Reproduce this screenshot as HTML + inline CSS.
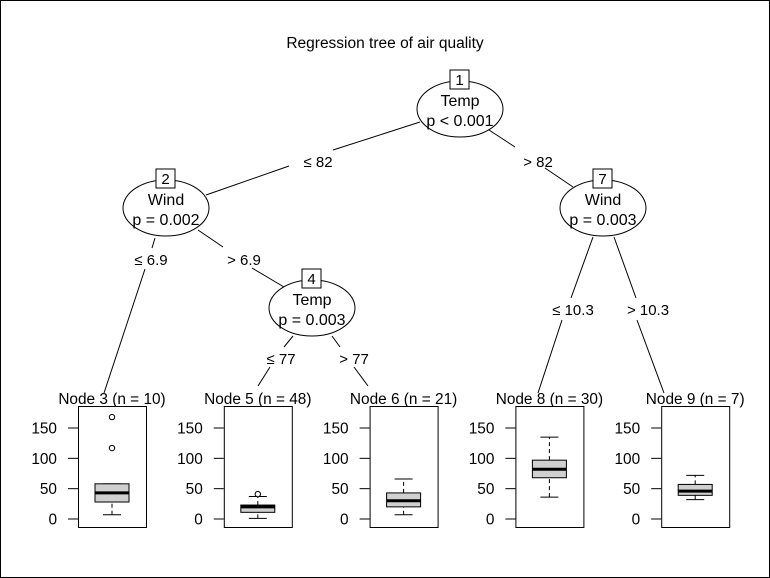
<!DOCTYPE html>
<html><head><meta charset="utf-8"><style>
html,body{margin:0;padding:0;background:#fff}
svg{display:block;font-family:"Liberation Sans",Arial,sans-serif}
</style></head><body>
<svg id="chart" width="770" height="578" viewBox="0 0 770 578">
<rect x="0.5" y="0.5" width="769" height="577" fill="#fff" stroke="#000"/>
<text x="385" y="48" font-size="15.5" text-anchor="middle">Regression tree of air quality</text>
<g stroke="#000" stroke-width="1" fill="none">
<path d="M420 122L333 150M289 166L206 195"/>
<path d="M489 130L515 147M545 168L573 187"/>
<path d="M155 238L152 248M145 269L104 393"/>
<path d="M198 230L223 247M252 268L284 287"/>
<path d="M293 336L284 347M270 367L258 386"/>
<path d="M332 336L340 347M354 367L368 386"/>
<path d="M593 237L571 298M562 320L538 393"/>
<path d="M614 237L636 298M637 320L664 393"/>
</g>
<g font-size="15" text-anchor="middle">
<text x="318" y="167">≤ 82</text>
<text x="538" y="167">&gt; 82</text>
<text x="151" y="265">≤ 6.9</text>
<text x="244" y="265">&gt; 6.9</text>
<text x="281" y="364">≤ 77</text>
<text x="354" y="364">&gt; 77</text>
<text x="573" y="315">≤ 10.3</text>
<text x="648" y="315">&gt; 10.3</text>
</g>
<g id="nodes"></g>
<g id="panels"></g>
</svg>
<script>
const NS='http://www.w3.org/2000/svg';
const nodeIds=[1,2,4,7];
const nodeVars=['Temp','Wind','Temp','Wind'];
const nodePvals=['p < 0.001','p = 0.002','p = 0.003','p = 0.003'];
const nodeCx=[460,166,312,603];
const nodeCy=[109,208,308,208];
const termIds=[3,5,6,8,9];
const termN=[10,48,21,30,7];
const boxLow=[7,1,7,36,32];
const boxQ1=[28,11,20,68,39];
const boxMed=[43,20,30,82,46];
const boxQ3=[58,23,43,97,57];
const boxHigh=[58,37,66,135,72];
const boxOutliers=[[117,168],[41],[],[],[]];
const yTicks=[0,50,100,150];

function el(tag,attrs,parent){const e=document.createElementNS(NS,tag);for(const k in attrs)e.setAttribute(k,attrs[k]);parent.appendChild(e);return e;}
const gN=document.getElementById('nodes');
nodeIds.forEach((id,i)=>{
  const g=el('g',{},gN);
  
  
  el('ellipse',{cx:nodeCx[i],cy:nodeCy[i],rx:43,ry:28,fill:'#fff',stroke:'#000'},g);
  el('rect',{x:nodeCx[i]-10,y:nodeCy[i]-39,width:19,height:19,fill:'#fff',stroke:'#000'},g);
  const t0=el('text',{x:nodeCx[i]-0.5,y:nodeCy[i]-24,'font-size':15,'text-anchor':'middle'},g);t0.textContent=id;
  const t1=el('text',{x:nodeCx[i],y:nodeCy[i]-3,'font-size':16,'text-anchor':'middle'},g);t1.textContent=nodeVars[i];
  const t2=el('text',{x:nodeCx[i],y:nodeCy[i]+17,'font-size':16,'text-anchor':'middle'},g);t2.textContent=nodePvals[i];
});
const gP=document.getElementById('panels');
const y0=519, pxPer=91/150;
function ys(v){return y0-v*pxPer;}
const panelX0=78, panelW=68, panelStep=145.8;
termIds.forEach((id,i)=>{
  const x0=panelX0+i*panelStep, cx=x0+panelW/2;
  const g=el('g',{},gP);
  
  
  const lab=el('text',{x:cx,y:404,'font-size':15.4,'text-anchor':'middle'},g);
  lab.textContent='Node '+id+' (n = '+termN[i]+')';
  el('rect',{x:x0+0.5,y:406.5,width:panelW,height:121,fill:'#fff',stroke:'#000'},g);
  yTicks.forEach(v=>{
    el('line',{x1:x0-10,x2:x0,y1:ys(v),y2:ys(v),stroke:'#000'},g);
    const tt=el('text',{x:x0-21,y:ys(v)+5.5,'font-size':15.4,'text-anchor':'end'},g);tt.textContent=v;
  });
  const bw=34, bx=cx-bw/2;
  el('line',{x1:cx,x2:cx,y1:ys(boxLow[i]),y2:ys(boxQ1[i]),stroke:'#000','stroke-dasharray':'4,3'},g);
  el('line',{x1:cx,x2:cx,y1:ys(boxQ3[i]),y2:ys(boxHigh[i]),stroke:'#000','stroke-dasharray':'4,3'},g);
  el('line',{x1:cx-9,x2:cx+9,y1:ys(boxLow[i]),y2:ys(boxLow[i]),stroke:'#000'},g);
  el('line',{x1:cx-9,x2:cx+9,y1:ys(boxHigh[i]),y2:ys(boxHigh[i]),stroke:'#000'},g);
  const b=el('rect',{x:bx,y:ys(boxQ3[i]),width:bw,height:ys(boxQ1[i])-ys(boxQ3[i]),fill:'#d0d0d0',stroke:'#000'},g);
  
  
  el('line',{x1:bx,x2:bx+bw,y1:ys(boxMed[i]),y2:ys(boxMed[i]),stroke:'#000','stroke-width':3},g);
  boxOutliers[i].forEach(v=>{
    const o=el('circle',{cx:cx,cy:ys(v),r:2.7,fill:'#fff',stroke:'#000'},g);
    
    
  });
});
</script>
</body></html>
